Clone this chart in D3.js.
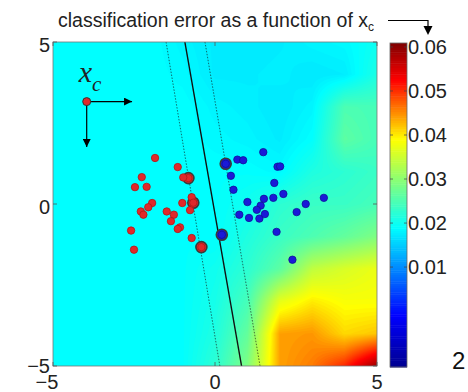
<!DOCTYPE html>
<meta charset="utf-8">
<style>
body { margin: 0; background: #fff; }
svg { display: block; font-family: "Liberation Sans", Arial, sans-serif; }
.pt { stroke-width: 0.8; }
</style>
<svg width="468" height="392"></svg>
<script src="https://d3js.org/d3.v7.min.js"></script>
<script>

// classification error read on a 1-unit grid, columns X = -5..5, rows Y = 5..-5
var gridX = [-5, -4, -3, -2, -1, 0, 1, 2, 3, 4, 5];
var gridY = [5, 4, 3, 2, 1, 0, -1, -2, -3, -4, -5];
var errGrid = [
  [.0191, .0191, .0191, .0191, .0182, .0175, .0172, .0175, .0182, .0186, .0200],
  [.0191, .0191, .0191, .0191, .0186, .0175, .0175, .0178, .0172, .0176, .0212],
  [.0191, .0191, .0191, .0191, .0191, .0182, .0178, .0172, .0182, .0250, .0245],
  [.0191, .0191, .0191, .0191, .0191, .0186, .0182, .0175, .0191, .0262, .0245],
  [.0191, .0191, .0191, .0191, .0191, .0191, .0191, .0186, .0213, .0224, .0235],
  [.0191, .0191, .0191, .0191, .0191, .0191, .0202, .0224, .0235, .0235, .0245],
  [.0191, .0191, .0191, .0191, .0191, .0191, .0213, .0235, .0250, .0267, .0289],
  [.0191, .0191, .0191, .0191, .0191, .0202, .0224, .0262, .0340, .0360, .0375],
  [.0191, .0191, .0191, .0191, .0191, .0207, .0245, .0370, .0400, .0385, .0385],
  [.0191, .0191, .0191, .0191, .0191, .0213, .0267, .0440, .0445, .0410, .0420],
  [.0191, .0191, .0191, .0191, .0191, .0224, .0289, .0440, .0460, .0505, .0592]
];

// class +1 (red) and class -1 (blue) samples
var redPts = [
  [-1.85, 1.42], [-1.15, 1.14], [-2.26, 0.83], [-2.47, 0.52], [-2.11, 0.53],
  [-0.82, 0.80], [-0.98, 0.82], [-0.72, 0.21], [-0.67, 0.04], [-1.01, 0.03],
  [-1.94, 0.03], [-2.06, -0.10], [-2.29, -0.23], [-2.21, -0.33], [-1.49, -0.23],
  [-1.27, -0.33], [-1.36, -0.53], [-0.77, -0.19], [-1.08, -0.72], [-1.15, -0.77],
  [-2.59, -0.82], [-0.72, -1.05], [-2.50, -1.41], [-0.42, -1.33]
];
var bluePts = [
  [0.33, 1.24], [0.69, 1.37], [0.87, 1.35], [1.49, 1.60], [1.93, 1.15],
  [2.01, 1.16], [0.49, 0.87], [1.83, 0.65], [0.57, 0.44], [2.11, 0.31],
  [1.80, 0.19], [1.51, 0.16], [1.00, 0.06], [1.41, -0.05], [1.29, -0.18],
  [2.80, 0.00], [3.36, 0.19], [2.52, -0.25], [0.75, -0.33], [1.05, -0.43],
  [1.37, -0.45], [1.54, -0.31], [1.90, -0.86], [0.21, -0.95], [2.39, -1.72]
];
// support vectors (circled)
var redSV = [[-0.82, 0.80], [-0.67, 0.04], [-0.42, -1.33]];
var blueSV = [[0.33, 1.24], [0.21, -0.95]];

// decision boundary and margins
var decisionLine = [[-0.93, 5], [0.82, -5]];
var marginLines = [
  [[-1.51, 5], [0.15, -5]],
  [[-0.31, 5], [1.39, -5]]
];

var xTicks = [-5, 0, 5];
var yTicks = [-5, 0, 5];
var cbTicks = [0.01, 0.02, 0.03, 0.04, 0.05, 0.06];
var cLim = [-0.0127, 0.0609];
// where the colorbar turns dark blue, blue, cyan, yellow, red, dark red
var cmapStops = [-0.0127, -0.001, 0.019, 0.039, 0.0525, 0.0609];
var cmapColors = ["#00008f", "#0000ff", "#00ffff", "#ffff00", "#ff0000", "#800000"];

var svg = d3.select("svg");

var x = d3.scaleLinear().domain([-5, 5]).range([53, 377]);
var y = d3.scaleLinear().domain([-5, 5]).range([366, 42]);

var color = d3.scaleLinear().domain(cmapStops).range(cmapColors).clamp(true);

// upsample the grid (bilinear) for smooth filled contours
var N = 121;
var fine = new Array(N * N);
for (var j = 0; j < N; j++) {
  for (var i = 0; i < N; i++) {
    var u = 10 * i / (N - 1), v = 10 * j / (N - 1);
    var i0 = Math.min(9, Math.floor(u)), j0 = Math.min(9, Math.floor(v));
    var fx = u - i0, fy = v - j0;
    fine[j * N + i] =
      errGrid[j0][i0] * (1 - fx) * (1 - fy) + errGrid[j0][i0 + 1] * fx * (1 - fy) +
      errGrid[j0 + 1][i0] * (1 - fx) * fy + errGrid[j0 + 1][i0 + 1] * fx * fy;
  }
}
var step = 0.0004;
var thresholds = d3.range(0.0168, 0.0605, step);
var contours = d3.contours().size([N, N]).thresholds(thresholds)(fine);

var gridPath = d3.geoPath(d3.geoTransform({
  point: function(px, py) {
    this.stream.point(x(-5 + (px - 0.5) * 10 / (N - 1)), y(5 - (py - 0.5) * 10 / (N - 1)));
  }
}));

svg.append("clipPath").attr("id", "plotclip")
  .append("rect").attr("x", 53).attr("y", 42).attr("width", 324).attr("height", 324);

var field = svg.append("g").attr("clip-path", "url(#plotclip)");
field.append("rect").attr("x", 53).attr("y", 42).attr("width", 324).attr("height", 324)
  .attr("fill", color(0.0172));
field.selectAll("path.c")
  .data(contours)
  .enter().append("path")
    .attr("class", "c")
    .attr("d", gridPath)
    .attr("fill", d => color(d.value + step / 2));

// boundary lines
var line = d3.line().x(d => x(d[0])).y(d => y(d[1]));
field.selectAll("path.margin")
  .data(marginLines)
  .enter().append("path")
    .attr("class", "margin")
    .attr("d", line)
    .attr("fill", "none")
    .attr("stroke", "#111")
    .attr("stroke-opacity", 0.75)
    .attr("stroke-width", 0.8)
    .attr("stroke-dasharray", "1.5,1.5");
field.append("path")
  .attr("d", line(decisionLine))
  .attr("fill", "none")
  .attr("stroke", "#111")
  .attr("stroke-width", 1.4);

// support vector rings
field.selectAll("circle.sv")
  .data(redSV.map(d => ({p: d, c: "#e0282a"})).concat(blueSV.map(d => ({p: d, c: "#1a1ad0"}))))
  .enter().append("circle")
    .attr("class", "sv")
    .attr("cx", d => x(d.p[0]))
    .attr("cy", d => y(d.p[1]))
    .attr("r", 5.5)
    .attr("fill", d => d.c)
    .attr("stroke", "#3a3a3a")
    .attr("stroke-width", 1.6);

field.selectAll("circle.red")
  .data(redPts)
  .enter().append("circle")
    .attr("class", "pt red")
    .attr("cx", d => x(d[0]))
    .attr("cy", d => y(d[1]))
    .attr("r", 3.7)
    .attr("fill", "#e0282a")
    .attr("stroke", "#b01818");

field.selectAll("circle.blue")
  .data(bluePts)
  .enter().append("circle")
    .attr("class", "pt blue")
    .attr("cx", d => x(d[0]))
    .attr("cy", d => y(d[1]))
    .attr("r", 3.7)
    .attr("fill", "#1a1ad8")
    .attr("stroke", "#10109a");

// x_c annotation with arrows
var anchor = [-3.96, 3.16], arrowLen = 1.4;
var defs = svg.append("defs");
defs.append("marker").attr("id", "head")
    .attr("viewBox", "0 0 10 10").attr("refX", 10).attr("refY", 5)
    .attr("markerWidth", 10).attr("markerHeight", 8).attr("markerUnits", "userSpaceOnUse")
    .attr("orient", "auto")
  .append("path").attr("d", "M0,0L10,5L0,10Z").attr("fill", "#000");

var ann = svg.append("g");
ann.append("line")
  .attr("x1", x(anchor[0])).attr("y1", y(anchor[1]))
  .attr("x2", x(anchor[0] + arrowLen)).attr("y2", y(anchor[1]))
  .attr("stroke", "#000").attr("stroke-width", 1.2).attr("marker-end", "url(#head)");
ann.append("line")
  .attr("x1", x(anchor[0])).attr("y1", y(anchor[1]))
  .attr("x2", x(anchor[0])).attr("y2", y(anchor[1] - arrowLen))
  .attr("stroke", "#000").attr("stroke-width", 1.2).attr("marker-end", "url(#head)");
ann.append("circle")
  .attr("cx", x(anchor[0])).attr("cy", y(anchor[1])).attr("r", 4)
  .attr("fill", "#e0282a").attr("stroke", "#333").attr("stroke-width", 1);
var xc = ann.append("text")
  .attr("x", x(anchor[0]) - 8).attr("y", y(anchor[1]) - 20)
  .attr("font-family", "'Liberation Serif', 'DejaVu Serif', serif")
  .attr("font-style", "italic")
  .attr("font-size", 30)
  .attr("fill", "#222");
xc.append("tspan").text("x");
xc.append("tspan").attr("font-size", 21).attr("dy", 9).text("c");

// axes frame and inward ticks
svg.append("rect").attr("x", 53).attr("y", 42).attr("width", 324).attr("height", 324)
  .attr("fill", "none").attr("stroke", "#777").attr("stroke-width", 0.8);

var ticks = svg.append("g").attr("stroke", "#555").attr("stroke-width", 0.8);
xTicks.forEach(t => {
  ticks.append("line").attr("x1", x(t)).attr("x2", x(t)).attr("y1", 366).attr("y2", 362);
  ticks.append("line").attr("x1", x(t)).attr("x2", x(t)).attr("y1", 42).attr("y2", 46);
});
yTicks.forEach(t => {
  ticks.append("line").attr("y1", y(t)).attr("y2", y(t)).attr("x1", 53).attr("x2", 57);
  ticks.append("line").attr("y1", y(t)).attr("y2", y(t)).attr("x1", 377).attr("x2", 373);
});

var fmt = d3.format("d");
svg.append("g").selectAll("text")
  .data(xTicks)
  .enter().append("text")
    .attr("x", d => x(d) - (d < 0 ? 6 : 0))
    .attr("y", 389)
    .attr("text-anchor", "middle")
    .attr("font-size", 20)
    .attr("fill", "#222")
    .text(d => fmt(d));
svg.append("g").selectAll("text")
  .data(yTicks)
  .enter().append("text")
    .attr("x", 50)
    .attr("y", d => y(d) + (d < 0 ? 7 : 10))
    .attr("text-anchor", "end")
    .attr("font-size", 20)
    .attr("fill", "#222")
    .text(d => fmt(d));

// colorbar
var cb = d3.scaleLinear().domain(cLim).range([367, 43]);
var cbSteps = d3.range(cLim[0], cLim[1], 0.0005);
svg.append("g").selectAll("rect")
  .data(cbSteps)
  .enter().append("rect")
    .attr("x", 390)
    .attr("width", 17)
    .attr("y", d => cb(Math.min(d + 0.0005, cLim[1])))
    .attr("height", d => cb(d) - cb(Math.min(d + 0.0005, cLim[1])) + 0.5)
    .attr("fill", d => color(d + 0.00025));
svg.append("rect").attr("x", 390).attr("y", 43).attr("width", 17).attr("height", 324)
  .attr("fill", "none").attr("stroke", "#666").attr("stroke-width", 0.8);
var cbt = svg.append("g");
cbTicks.forEach(t => {
  cbt.append("line").attr("x1", 390).attr("x2", 393).attr("y1", cb(t)).attr("y2", cb(t))
    .attr("stroke", "#444").attr("stroke-width", 0.7);
  cbt.append("line").attr("x1", 407).attr("x2", 404).attr("y1", cb(t)).attr("y2", cb(t))
    .attr("stroke", "#444").attr("stroke-width", 0.7);
});
cbt.selectAll("text")
  .data(cbTicks)
  .enter().append("text")
    .attr("x", 408)
    .attr("y", d => cb(d) + 7)
    .attr("font-size", 20)
    .attr("fill", "#222")
    .text(d => d3.format(".2f")(d));

// title with arrow
var title = svg.append("text")
  .attr("x", 58).attr("y", 27)
  .attr("font-size", 19.5)
  .attr("fill", "#222");
title.append("tspan").text("classification error as a function of x");
title.append("tspan").attr("font-size", 12).attr("dy", 4).text("c");

svg.append("path")
  .attr("d", "M388,20.5H428V27")
  .attr("fill", "none").attr("stroke", "#000").attr("stroke-width", 1.2);
svg.append("path")
  .attr("d", "M423.5,26L432.5,26L428,35Z")
  .attr("fill", "#000");

svg.append("text")
  .attr("x", 452).attr("y", 369)
  .attr("font-size", 24)
  .attr("fill", "#111")
  .text("2");

</script>
